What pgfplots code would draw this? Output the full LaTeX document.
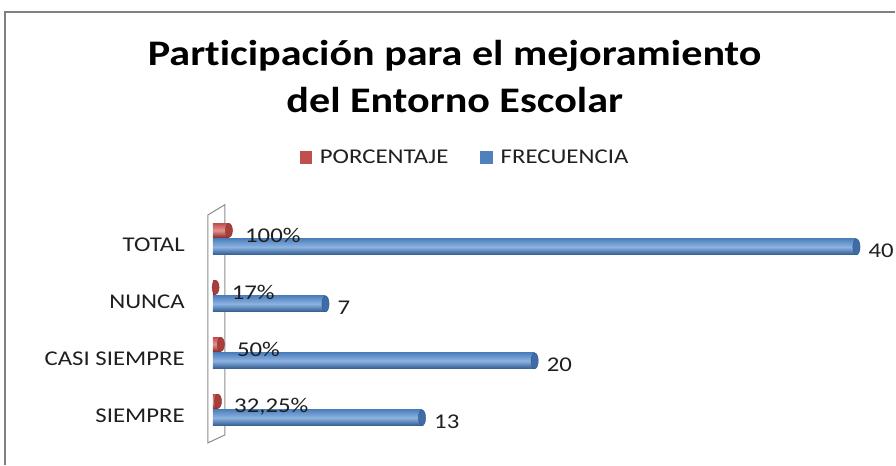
\documentclass[border=0pt]{standalone}
\usepackage{pgfplots}
\pgfplotsset{compat=1.18}
\usepackage{pgfplotstable}
\usepackage{fontspec}
\setmainfont{Carlito}[FakeStretch=1.18, Ligatures=NoCommon]
\newfontfamily\titlefont{Carlito}[FakeStretch=1.17, Ligatures=NoCommon]

\definecolor{bmid}{HTML}{4F81BD}
\definecolor{blight}{HTML}{8DB3E2}
\definecolor{bdark}{HTML}{2E5A8E}
\definecolor{bcap}{HTML}{3F6CA6}
\definecolor{rmid}{HTML}{C0504D}
\definecolor{rlight}{HTML}{E49390}
\definecolor{rdark}{HTML}{8B2E2C}
\definecolor{rcap}{HTML}{A83E3B}
\definecolor{textc}{HTML}{1F1F1F}

\pgfplotstableread{
y yp freq pct lab
0 0.29 13 0.3225 {32,25}
1 1.29 20 0.50 50
2 2.29 7 0.17 17
3 3.29 40 1.00 100
}\datatable

\begin{document}
\begin{tikzpicture}
\begin{axis}[
  scale only axis, width=676pt, height=245.1pt,
  xmin=0, xmax=42, ymin=-0.5, ymax=3.8,
  clip=false,
  axis line style={draw=none},
  major tick length=0pt,
  xtick=\empty,
  ytick={0.03,1.03,2.03,3.03},
  yticklabels={SIEMPRE, CASI SIEMPRE, NUNCA, TOTAL},
  yticklabel style={font=\fontsize{21}{24}\selectfont, text=textc, inner sep=0pt, xshift=-28pt},
  legend columns=2,
  legend style={draw=none, fill=none, at={(0.373,1.181)}, anchor=center,
    font=\fontsize{21}{24}\selectfont, text=textc,
    /tikz/every even column/.append style={column sep=30pt}},
  legend cell align=left,
]
\addlegendimage{legend image code/.code={\fill[rmid] (0pt,-6pt) rectangle (12pt,6pt);}}
\addlegendentry{\hspace{6pt}PORCENTAJE}
\addlegendimage{legend image code/.code={\fill[bmid] (0pt,-6pt) rectangle (12pt,6pt);}}
\addlegendentry{\hspace{6pt}FRECUENCIA}

% page extent and outer frame
\path (axis cs:-13.23,7.333) rectangle (axis cs:42.42,-0.8246);
\draw[black!50, line width=1.2pt] (axis cs:-12.92,-0.8246) -- (axis cs:-12.92,7.123) -- (axis cs:42.42,7.123);
\node[font=\titlefont\bfseries\fontsize{36}{47}\selectfont, align=center, text=black] at (axis cs:15.03,5.982) {Participación para el mejoramiento\\del Entorno Escolar};

\draw[black!45, fill=white, line width=1pt] (axis cs:-0.31,3.56) -- (axis cs:0.745,3.74) -- (axis cs:0.745,-0.30) -- (axis cs:-0.31,-0.44) -- cycle;

% PORCENTAJE bars (one plot per bar so that each is shaded on its own)
\pgfplotsinvokeforeach{0,1,2,3}{
\addplot[forget plot, xbar, bar width=14pt, bar shift=0pt, draw=none,
  restrict y to domain=#1.2:#1.4,
  top color=rmid, bottom color=rdark, middle color=rlight]
  table[x=pct, y=yp]{\datatable};
}
\addplot[forget plot, only marks, mark=*, mark size=7pt,
  mark options={xscale=0.5, fill=rcap, draw=rdark, line width=0.4pt}]
  table[x=pct, y=yp]{\datatable};
\addplot[forget plot, draw=none, mark=none, point meta=explicit symbolic,
  nodes near coords={\pgfplotspointmeta\%},
  nodes near coords style={anchor=west, inner sep=0pt, xshift=16pt, yshift=-5pt,
    font=\fontsize{21}{24}\selectfont, text=textc}]
  table[x=pct, y=yp, meta=lab]{\datatable};

% FRECUENCIA bars
\pgfplotsinvokeforeach{0,1,2,3}{
\addplot[forget plot, xbar, bar width=16pt, bar shift=0pt, draw=none,
  restrict y to domain=#1:#1.1,
  top color=bmid, bottom color=bdark, middle color=blight]
  table[x=freq, y=y]{\datatable};
}
\addplot[forget plot, only marks, mark=*, mark size=8pt,
  mark options={xscale=0.45, fill=bcap, draw=bdark, line width=0.4pt}]
  table[x=freq, y=y]{\datatable};
\addplot[forget plot, draw=none, mark=none, point meta=explicit symbolic,
  nodes near coords={\pgfplotspointmeta},
  nodes near coords style={anchor=west, inner sep=0pt, xshift=12pt, yshift=-4pt,
    font=\fontsize{21}{24}\selectfont, text=textc}]
  table[x=freq, y=y, meta=freq]{\datatable};
\end{axis}
\end{tikzpicture}
\end{document}
